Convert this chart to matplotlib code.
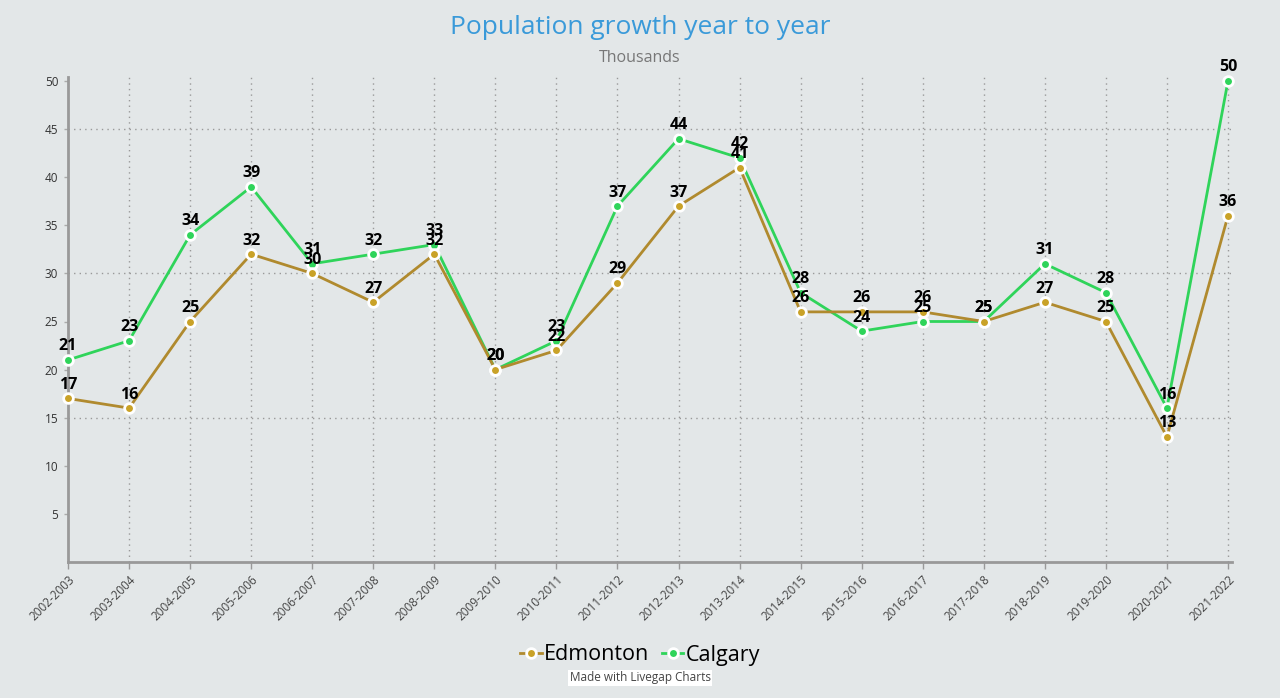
import matplotlib.pyplot as plt
import numpy as np

plt.rcParams['font.family'] = ['Open Sans', 'DejaVu Sans']

seasons = ["2002-2003", "2003-2004", "2004-2005", "2005-2006", "2006-2007",
           "2007-2008", "2008-2009", "2009-2010", "2010-2011", "2011-2012",
           "2012-2013", "2013-2014", "2014-2015", "2015-2016", "2016-2017",
           "2017-2018", "2018-2019", "2019-2020", "2020-2021", "2021-2022"]
edmonton = [17, 16, 25, 32, 30, 27, 32, 20, 22, 29, 37, 41, 26, 26, 26, 25, 27, 25, 13, 36]
calgary = [21, 23, 34, 39, 31, 32, 33, 20, 23, 37, 44, 42, 28, 24, 25, 25, 31, 28, 16, 50]

bg = '#e3e7e8'
fig = plt.figure(figsize=(12.8, 6.98), dpi=100, facecolor=bg)
ax = fig.add_axes([68/1280, 1-562/698, 1164/1280, 485/698])
ax.set_facecolor(bg)

x = np.arange(len(seasons))
series = [("Calgary", calgary, '#2fd45a', '#2fd45a'),
          ("Edmonton", edmonton, '#b08a2e', '#c9a227')]
handles = {}
for name, vals, lc, mc in series:
    h, = ax.plot(x, vals, color=lc, lw=2, marker='o', ms=7, mfc=mc, mec='white',
                 mew=2, label=name, zorder=3, clip_on=False)
    handles[name] = h
    for xi, v in zip(x, vals):
        ax.annotate(str(v), (xi, v), xytext=(0, 4), textcoords='offset points',
                    ha='center', va='bottom', fontsize=11.5, fontweight='bold',
                    color='black', zorder=5)

ax.set_xlim(0, 19 * 1164 / 1160)
ax.set_ylim(0, 50 * 485 / 481)
ax.set_xticks(x)
ax.set_xticklabels(seasons, rotation=45, ha='right', rotation_mode='anchor',
                   fontsize=8.5, color='#444444')
ax.set_yticks(range(5, 55, 5))
ax.tick_params(axis='y', labelsize=8.5, labelcolor='#333333', length=3,
               color='#aaaaaa', width=1, pad=4)
ax.tick_params(axis='x', length=5, color='#999999', width=1, pad=3)

for xi in x[1:]:
    ax.axvline(xi, color='#999999', lw=1, ls=(0, (1, 3)), zorder=1)
for yv in [15, 30, 45]:
    ax.axhline(yv, color='#999999', lw=1, ls=(0, (1, 3)), zorder=1)

for s in ['top', 'right']:
    ax.spines[s].set_visible(False)
for s in ['left', 'bottom']:
    ax.spines[s].set_color('#999999')
    ax.spines[s].set_linewidth(2)

fig.text(0.5, 1-28/698, "Population growth year to year", ha='center', va='center',
         fontsize=19, color='#3a9ad9')
fig.text(0.5, 1-58/698, "Thousands", ha='center', va='center',
         fontsize=11.5, color='#777777')

fig.legend([handles["Edmonton"], handles["Calgary"]], ["Edmonton", "Calgary"],
           loc='center', bbox_to_anchor=(0.5, 1-655/698), ncol=2, frameon=False,
           fontsize=15.5, handlelength=1.0, handletextpad=0.1, columnspacing=0.6)
fig.text(0.5, 1-678/698, "Made with Livegap Charts", ha='center', va='center',
         fontsize=8.5, color='#444444',
         bbox=dict(facecolor='white', edgecolor='none', pad=1))

fig.savefig('out.png', dpi=100, facecolor=bg)
